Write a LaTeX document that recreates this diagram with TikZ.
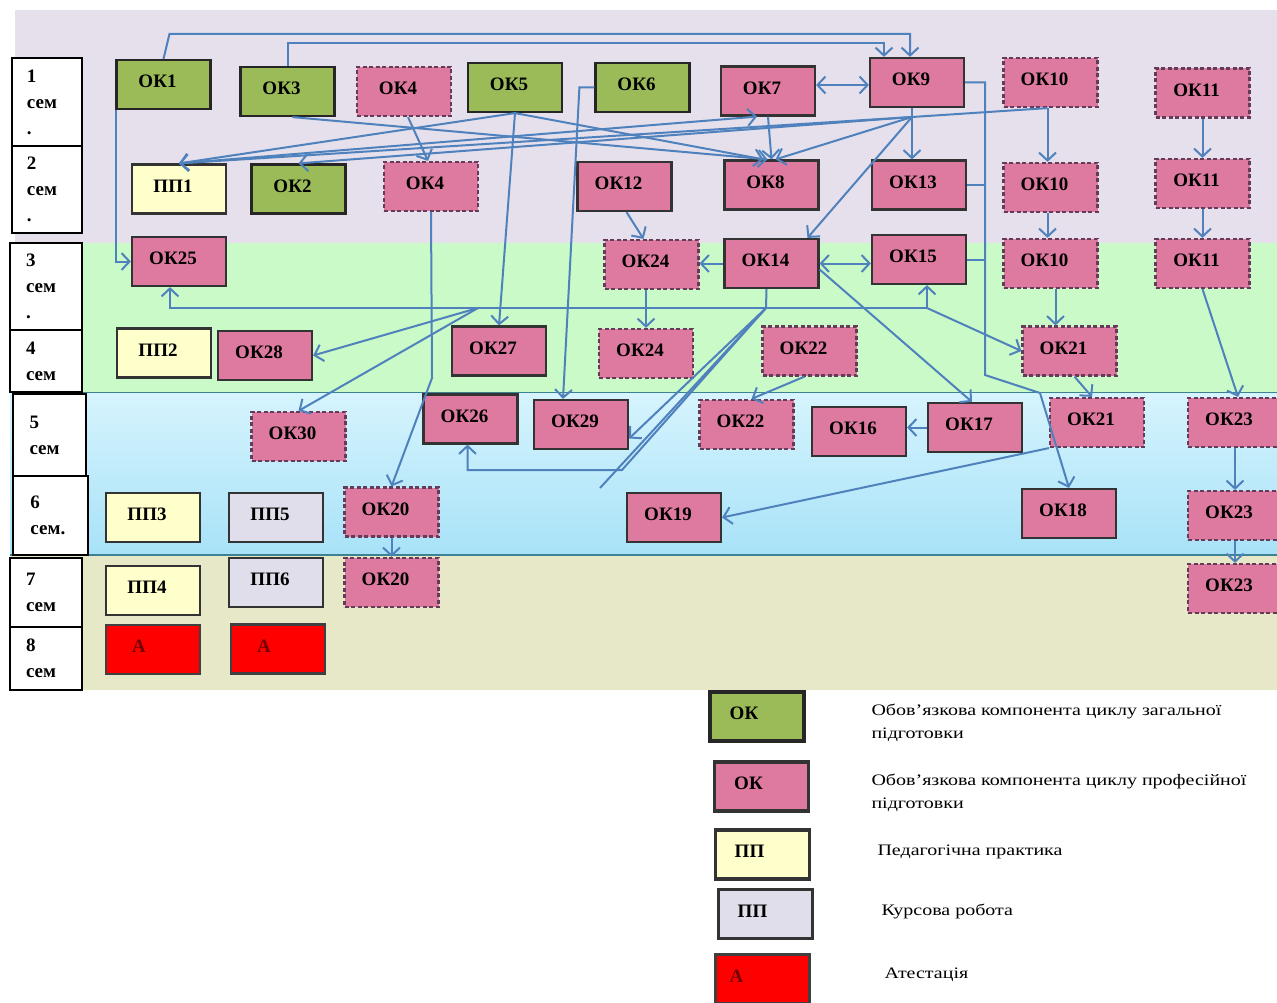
\documentclass[tikz,border=0pt]{standalone}
\usepackage{fontspec}
\setmainfont{Liberation Serif}
\newfontfamily\legfont[FakeStretch=1.25]{Liberation Serif}
\usetikzlibrary{arrows.meta}

\definecolor{bgtop}{RGB}{229,224,236}
\definecolor{bggreen}{RGB}{202,250,200}
\definecolor{bgbluetop}{RGB}{214,244,253}
\definecolor{bgbluebot}{RGB}{168,226,248}
\definecolor{bgbeige}{RGB}{230,232,200}
\definecolor{bandline}{RGB}{60,130,145}
\definecolor{okgreen}{RGB}{155,187,89}
\definecolor{okpink}{RGB}{222,122,160}
\definecolor{ppyellow}{RGB}{255,255,204}
\definecolor{ppgray}{RGB}{224,222,234}
\definecolor{linkc}{RGB}{79,129,189}
\definecolor{dashc}{RGB}{100,60,90}

\newcommand{\kbox}[4]{\node(#1)[#2] at (#3) {#4\kern12pt}}
\newcommand{\semlabel}[5]{\node(#1)[sem,minimum width=#3,minimum height=#4] at (#2) {#5}}

\begin{document}
\begin{tikzpicture}[x=1pt,y=-1pt,
    every node/.style={font=\bfseries\fontsize{19}{21}\selectfont},
    box/.style={rectangle,minimum width=94pt,minimum height=49pt,
                line width=2.2pt,text depth=6pt,inner sep=0pt},
    okg/.style={box,fill=okgreen,draw={black!85}},
    okp/.style={box,fill=okpink,draw={black!80}},
    okd/.style={box,fill=okpink,draw=dashc,dash pattern=on 4pt off 2.5pt},
    ppy/.style={box,fill=ppyellow,draw={black!80}},
    ppg/.style={box,fill=ppgray,draw={black!80}},
    att/.style={box,fill=red,draw={black!75},text=red!45!black},
    legbox/.style={line width=3.2pt},
    sem/.style={rectangle,draw=black,fill=white,line width=1.4pt,
                text width=40pt,align=left,inner sep=0pt,
                font=\bfseries\fontsize{19}{26}\selectfont},
    leg/.style={font=\legfont\fontsize{16}{23}\selectfont,align=left},
    line/.style={draw=linkc,line width=2pt},
    link/.style={line,-{Straight Barb[length=8pt,width=17pt]}},
    dlink/.style={line,{Straight Barb[length=8pt,width=17pt]}-{Straight Barb[length=8pt,width=17pt]}}
  ]
  \useasboundingbox (0,0) rectangle (1277,1003);

  % semester bands
  \fill[bgtop] (15,10) rectangle (1277,243);
  \fill[bggreen] (10,243) rectangle (1277,392);
  \fill[top color=bgbluetop,bottom color=bgbluebot] (10,392) rectangle (1277,555);
  \fill[bgbeige] (10,555) rectangle (1277,690);
  \draw[bandline,line width=1pt] (10,392) -- (1277,392);
  \draw[bandline,line width=2.5pt] (10,555) -- (1277,555);

  % semester labels
  \semlabel{s1}{47,102}{70pt}{88pt}{1\\сем\\.};
  \semlabel{s2}{47,189.5}{70pt}{87pt}{2\\сем\\.};
  \semlabel{s3}{46,286.5}{72pt}{87pt}{3\\сем\\.};
  \semlabel{s4}{46,361}{72pt}{62pt}{4\\сем};
  \semlabel{s5}{49.5,435}{73pt}{82pt}{5\\сем};
  \semlabel{s6}{50.5,515.5}{75pt}{79pt}{6\\сем.};
  \semlabel{s7}{46,592.5}{72pt}{69pt}{7\\сем};
  \semlabel{s8}{46,658.5}{72pt}{63pt}{8\\сем};

  % semester 1
  \kbox{ok1}{okg}{163.5,84.5}{ОК1};
  \kbox{ok3}{okg}{287.5,91.5}{ОК3};
  \kbox{ok4a}{okd}{404,91.5}{ОК4};
  \kbox{ok5}{okg}{515,87.5}{ОК5};
  \kbox{ok6}{okg}{642.5,87.5}{ОК6};
  \kbox{ok7}{okp}{768,91}{ОК7};
  \kbox{ok9}{okp}{917,82.5}{ОК9};
  \kbox{ok10a}{okd}{1050.5,82.5}{ОК10};
  \kbox{ok11a}{okd}{1202.5,93}{ОК11};
  % semester 2
  \kbox{pp1}{ppy}{179,189}{ПП1};
  \kbox{ok2}{okg}{298.5,189}{ОК2};
  \kbox{ok4b}{okd}{431,186.5}{ОК4};
  \kbox{ok12}{okp}{624.5,186.5}{ОК12};
  \kbox{ok8}{okp}{771.5,185}{ОК8};
  \kbox{ok13}{okp}{919,185}{ОК13};
  \kbox{ok10b}{okd}{1050.5,187.5}{ОК10};
  \kbox{ok11b}{okd}{1202.5,183.5}{ОК11};
  % semester 3
  \kbox{ok25}{okp}{179,261.5}{ОК25};
  \kbox{ok24a}{okd}{651.5,264.5}{ОК24};
  \kbox{ok14}{okp}{771.5,263.5}{ОК14};
  \kbox{ok15}{okp}{919,259.5}{ОК15};
  \kbox{ok10c}{okd}{1050.5,263.5}{ОК10};
  \kbox{ok11c}{okd}{1202.5,263.5}{ОК11};
  % semester 4
  \kbox{pp2}{ppy}{164,353}{ПП2};
  \kbox{ok28}{okp}{265,355.5}{ОК28};
  \kbox{ok27}{okp}{499,351}{ОК27};
  \kbox{ok24b}{okd}{646,353.5}{ОК24};
  \kbox{ok22a}{okd}{809.5,351}{ОК22};
  \kbox{ok21a}{okd}{1069.5,351}{ОК21};
  % semester 5
  \kbox{ok30}{okd}{298.5,436.5}{ОК30};
  \kbox{ok26}{okp}{470.5,419}{ОК26};
  \kbox{ok29}{okp}{581,424.5}{ОК29};
  \kbox{ok22b}{okd}{746.5,424.5}{ОК22};
  \kbox{ok16}{okp}{859,431.5}{ОК16};
  \kbox{ok17}{okp}{975,427.5}{ОК17};
  \kbox{ok21b}{okd}{1097,422.5}{ОК21};
  \kbox{ok23a}{okd}{1235,422.5}{ОК23};
  % semester 6
  \kbox{pp3}{ppy}{153,517.5}{ПП3};
  \kbox{pp5}{ppg}{276,517.5}{ПП5};
  \kbox{ok20a}{okd}{391.5,512}{ОК20};
  \kbox{ok19}{okp}{674,517.5}{ОК19};
  \kbox{ok18}{okp}{1069,513.5}{ОК18};
  \kbox{ok23b}{okd}{1235,515.5}{ОК23};
  % semester 7
  \kbox{pp4}{ppy}{153,590.5}{ПП4};
  \kbox{pp6}{ppg}{276,582.5}{ПП6};
  \kbox{ok20b}{okd}{391.5,582.5}{ОК20};
  \kbox{ok23c}{okd}{1235,588.5}{ОК23};
  % semester 8
  \kbox{a1}{att}{153,649.5}{А\kern16pt};
  \kbox{a2}{att}{278,649}{А\kern16pt};

  % junctions
  \coordinate (hub) at (912,117);
  \coordinate (j14) at (766,308);
  \coordinate (jl) at (478,308);
  \coordinate (j15) at (927,308);
  \coordinate (bend) at (985,375);
  \coordinate (e1) at (600,488);

  % links out of semester 1
  \draw[link] (ok1.north) -- ++(6,-25) -| ([xshift=-7pt]ok9.north);
  \draw[link] (ok3.north) -- ++(0,-23) -| ([xshift=-33pt]ok9.north);
  \draw[link] ([xshift=1pt]ok1.south west) |- (ok25.west);
  \draw[dlink] (ok7.east |- 0,85) -- (ok9.west |- 0,85);
  \draw[link] ([xshift=4pt]ok4a.south) -- ([xshift=-3pt]ok4b.north);
  \draw[link] (ok5.south) -- (pp1.north);
  \draw[link] (ok5.south) -- ([xshift=-8pt]ok8.north);
  \draw[link] (ok5.south) -- (ok27.north);
  \draw[link] ([xshift=5pt]ok3.south) -- ([xshift=-4pt]ok8.north);
  \draw[link] (pp1.north) -- ([xshift=-11pt]ok7.south);
  \draw[link] (ok7.south) -- (ok8.north);
  \draw[link] (ok6.west) -- ++(-15,0) -- ([xshift=-18pt]ok29.north);

  % fan out of OK9
  \draw[line] (ok9.south -| hub) -- (hub);
  \draw[line] (hub) -- ([xshift=-3pt]ok10a.south);
  \draw[link] (hub) -- (hub |- ok13.north);
  \draw[link] (hub) -- (pp1.north);
  \draw[link] (hub) -- (ok2.north);
  \draw[link] (hub) -- ([xshift=4pt]ok8.north);
  \draw[link] (hub) -- ([xshift=36pt]ok14.north);

  % columns on the right
  \draw[link] ([xshift=-3pt]ok10a.south) -- ([xshift=-3pt]ok10b.north);
  \draw[link] ([xshift=-3pt]ok10b.south) -- ([xshift=-3pt]ok10c.north);
  \draw[link] ([xshift=5pt]ok10c.south) -- ([xshift=-14pt]ok21a.north);
  \draw[link] ([xshift=5pt]ok21a.south) -- ([xshift=-5pt]ok21b.north);
  \draw[link] (ok11a.south) -- (ok11b.north);
  \draw[link] (ok11b.south) -- (ok11c.north);
  \draw[link] (ok11c.south) -- ([xshift=3pt]ok23a.north);
  \draw[link] (ok23a.south) -- (ok23b.north);
  \draw[link] (ok23b.south) -- (ok23c.north);
  \draw[link] (ok9.east) -| (bend) -- (1040,393) -- (ok18.north);
  \draw[line] (ok13.east) -- (ok13.east -| bend);
  \draw[line] (ok15.east) -- (ok15.east -| bend);
  \draw[link] (ok21b.south west) -- (ok19.east);

  % middle links
  \draw[link] ([xshift=2pt]ok12.south) -- ([xshift=-8pt]ok24a.north);
  \draw[link] (ok24a.south -| ok24b.north) -- (ok24b.north);
  \draw[link] (ok14.west) -- (ok14.west -| ok24a.east);
  \draw[dlink] (ok14.east) -- (ok14.east -| ok15.west);
  \draw[link] ([yshift=-6pt]ok14.east) -- ([xshift=-3pt]ok17.north);
  \draw[link] (ok17.west) -- (ok17.west -| ok16.east);
  \draw[link] ([xshift=-5pt]ok22a.south) -- ([xshift=5pt]ok22b.north);

  % links out of OK14 along the bus
  \draw[line] ([xshift=-5pt]ok14.south) -- (j14);
  \draw[link] (j14) -| ([xshift=-9pt]ok25.south);
  \draw[link] (j14) -| ([xshift=8pt]ok15.south);
  \draw[link] (j15) -- (ok21a.west);
  \draw[link] (jl) -- (ok28.east);
  \draw[link] (jl) -- (ok30.north);
  \draw[link] (j14) -- ([yshift=-14pt]ok29.east);
  \draw[link] (j14) -- (622,470) -| ([xshift=-3pt]ok26.south);
  \draw[line] (j14) -- (e1);

  % links down to OK20
  \draw[link] (ok4b.south) -- (432,378) -- (ok20a.north);
  \draw[link] (ok20a.south) -- (ok20b.north);

  % legend
  \kbox{lga}{okg,legbox}{757,716.5}{ОК\kern14pt};
  \kbox{lgb}{okp,legbox}{761.5,786.5}{ОК\kern14pt};
  \kbox{lgc}{ppy,legbox}{762.5,854.5}{ПП\kern14pt};
  \kbox{lgd}{ppg,legbox}{765.5,914}{ПП\kern14pt};
  \kbox{lge}{att,legbox}{762.5,979}{А\kern40pt};
  \node(lta)[leg,anchor=north west] at (868,701) {Обов’язкова компонента циклу загальної\\підготовки};
  \node(ltb)[leg,anchor=north west] at (868,771) {Обов’язкова компонента циклу професійної\\підготовки};
  \node(ltc)[leg,anchor=west] at (874,852) {Педагогічна практика};
  \node(ltd)[leg,anchor=west] at (878,911) {Курсова робота};
  \node(lte)[leg,anchor=west] at (881,975) {Атестація};
\end{tikzpicture}
\end{document}
